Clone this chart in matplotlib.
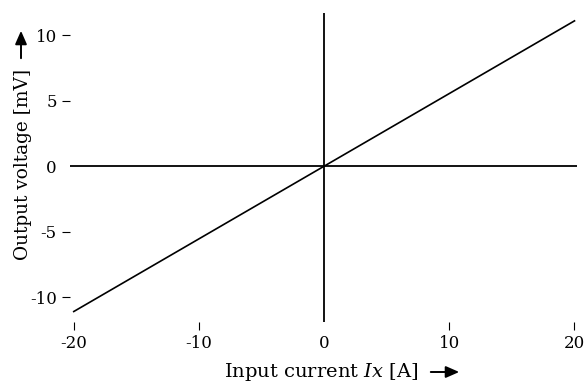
import numpy as np
import matplotlib
matplotlib.use("Agg")
from matplotlib import pyplot as plt

# data
current = [-20, 0, 20]          # Ix [A]
voltage = [-11.1, 0, 11.1]      # output [mV]
x_ticks = [-20, -10, 0, 10, 20]
y_ticks = [-10, -5, 0, 5, 10]

plt.rcParams['font.family'] = 'DejaVu Serif'
plt.rcParams['mathtext.fontset'] = 'dejavuserif'
plt.rcParams['axes.unicode_minus'] = False

W, H = 586, 385
fig = plt.figure(figsize=(W / 100, H / 100), dpi=100)
ax = fig.add_axes([70 / W, 1 - 322 / H, 507 / W, 309 / H])

ax.plot(current, voltage, color='black', lw=1.2)
ax.axhline(0, color='black', lw=1.3)
ax.axvline(0, color='black', lw=1.3)

ax.set_xlim(-20.3, 20.2)
ax.set_ylim(-11.9, 11.7)
ax.set_xticks(x_ticks)
ax.set_yticks(y_ticks)
ax.set_xticklabels([str(t) for t in x_ticks])
ax.set_yticklabels([str(t) for t in y_ticks])
ax.tick_params(direction='out', length=6, width=0.8, pad=3.5, labelsize=12, colors='black')

# no tick mark at zero, the axis lines are there
ax.xaxis.get_major_ticks()[2].tick1line.set_visible(False)
ax.yaxis.get_major_ticks()[2].tick1line.set_visible(False)

for s in ax.spines.values():
    s.set_visible(False)

# axis labels with arrows
fig.text(321.5 / W, 1 - 377 / H, 'Input current $Ix$ [A]', ha='center', va='baseline', fontsize=14)
fig.text(23 / W, 1 - 164 / H, 'Output voltage [mV]', ha='center', va='center', rotation=90, fontsize=13.3)

arrow = dict(arrowstyle='-|>,head_length=0.8,head_width=0.35', lw=1.4, color='black')
ax.annotate('', xy=(462, H - 372), xytext=(428, H - 372), xycoords='figure pixels', textcoords='figure pixels', arrowprops=arrow)
ax.annotate('', xy=(21, H - 28), xytext=(21, H - 61), xycoords='figure pixels', textcoords='figure pixels', arrowprops=arrow)

fig.savefig('out.png', dpi=100)
